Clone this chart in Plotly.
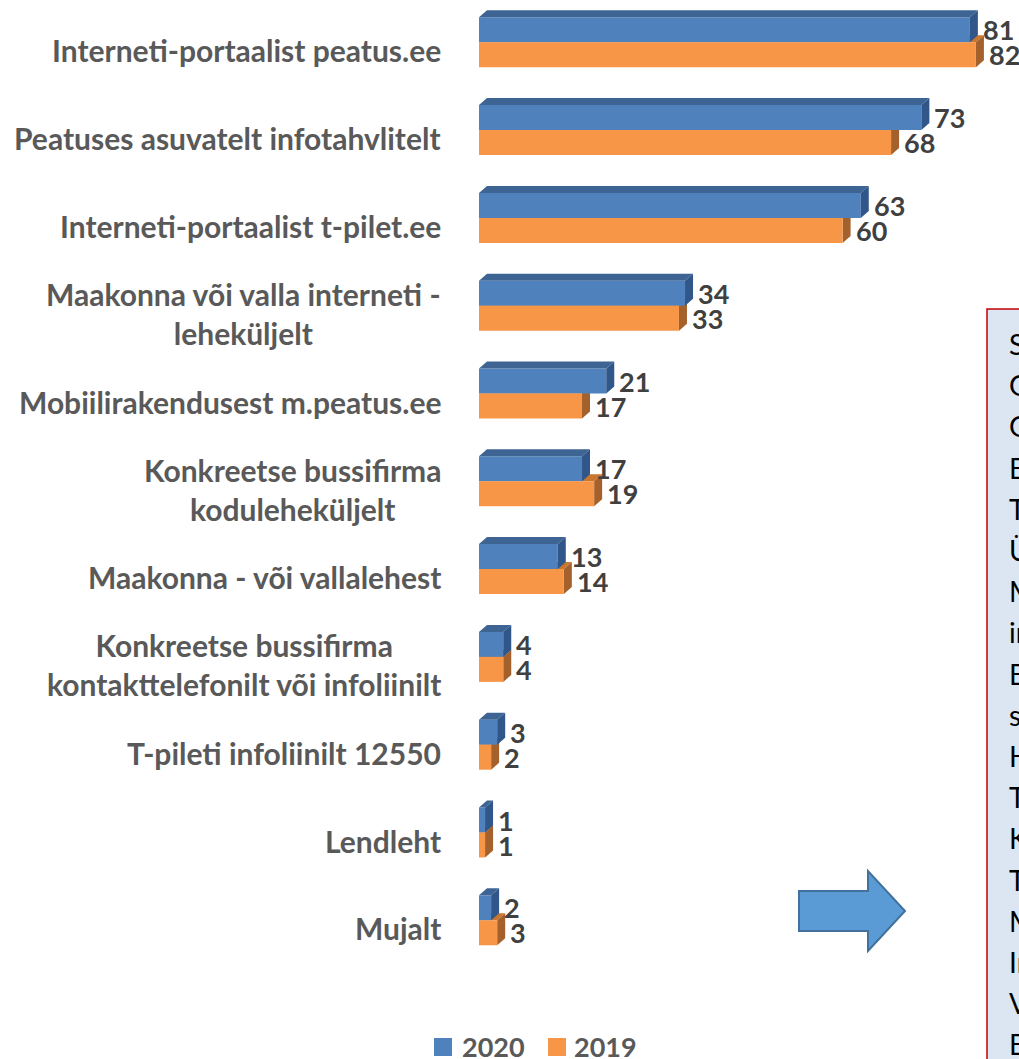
import plotly.graph_objects as go

# ---------------- data ----------------
categories = [
    "Interneti-portaalist peatus.ee",
    "Peatuses asuvatelt infotahvlitelt",
    "Interneti-portaalist t-pilet.ee",
    "Maakonna või valla interneti -<br>leheküljelt",
    "Mobiilirakendusest m.peatus.ee",
    "Konkreetse bussifirma<br>koduleheküljelt",
    "Maakonna - või vallalehest",
    "Konkreetse bussifirma<br>kontakttelefonilt või infoliinilt",
    "T-pileti infoliinilt 12550",
    "Lendleht",
    "Mujalt",
]
values_2020 = [81, 73, 63, 34, 21, 17, 13, 4, 3, 1, 2]
values_2019 = [82, 68, 60, 33, 17, 19, 14, 4, 2, 1, 3]
series_names = ["2020", "2019"]
box_lines = ["S", "G", "G", "B", "T", "Ü", "M", "in", "B", "s", "H", "T",
             "K", "T", "M", "In", "V", "B"]

# ---------------- geometry / style ----------------
W, H = 1019, 1059
L = 479                      # left edge of plot area (px)
PX_PER_UNIT = 6.06           # x scale
PX_PER_CAT = 87.8            # category spacing
FIRST_CENTER = 42.3          # px of first category centre
BAR_PX = 25                  # bar thickness px
DX_PX, DY_PX = 8, 7          # 3D depth offsets px

x_max = (W - L) / PX_PER_UNIT
y_top = -FIRST_CENTER / PX_PER_CAT
y_bot = y_top + H / PX_PER_CAT
bw = BAR_PX / PX_PER_CAT
dx = DX_PX / PX_PER_UNIT
dy = DY_PX / PX_PER_CAT

BLUE, BLUE_TOP, BLUE_SIDE = "#4f81bd", "#3d6493", "#30568a"
ORANGE, ORANGE_TOP, ORANGE_SIDE = "#f79646", "#c9762f", "#a5612b"
LABEL_FONT = "Lato"


def fx(px):
    return (px - L) / (W - L)


def fy(py):
    return 1 - py / H


ypos = list(range(len(categories)))

fig = go.Figure()
fig.add_trace(go.Bar(
    x=values_2020, y=ypos, orientation="h", name=series_names[0],
    marker=dict(color=BLUE, line=dict(width=0)), width=bw, offset=-bw,
))
fig.add_trace(go.Bar(
    x=values_2019, y=ypos, orientation="h", name=series_names[1],
    marker=dict(color=ORANGE, line=dict(width=0)), width=bw, offset=0,
))

shapes = []


def faces(v, ytop, ybot, top_col, side_col, layer):
    top = (f"M 0,{ytop} L {v},{ytop} L {v+dx},{ytop-dy} L {dx},{ytop-dy} Z")
    side = (f"M {v},{ytop} L {v+dx},{ytop-dy} L {v+dx},{ybot-dy} L {v},{ybot} Z")
    return [
        dict(type="path", path=top, xref="x", yref="y", fillcolor=top_col,
             line=dict(width=0), layer=layer),
        dict(type="path", path=side, xref="x", yref="y", fillcolor=side_col,
             line=dict(width=0), layer=layer),
    ]


for i, (b, o) in enumerate(zip(values_2020, values_2019)):
    shapes += faces(o, i, i + bw, ORANGE_TOP, ORANGE_SIDE, "below")
    shapes += faces(b, i - bw, i, BLUE_TOP, BLUE_SIDE, "above")

annotations = []
for i, cat in enumerate(categories):
    annotations.append(dict(
        text=cat, xref="paper", x=fx(443), xanchor="right", yref="y", y=i,
        yanchor="middle", yshift=-8, align="center", showarrow=False,
        font=dict(family=LABEL_FONT, size=30, color="#595959", weight="bold"),
    ))
for i, (b, o) in enumerate(zip(values_2020, values_2019)):
    for v, yc in ((b, i - bw / 2), (o, i + bw / 2)):
        annotations.append(dict(
            text=str(v), xref="x", x=v, xanchor="left", xshift=11,
            yref="y", y=yc, yanchor="middle", showarrow=False,
            font=dict(family=LABEL_FONT, size=27, color="#404040", weight="bold"),
        ))

# text box on the right (cropped)
shapes.append(dict(type="rect", xref="paper", yref="paper",
                   x0=fx(987), x1=fx(1040), y0=fy(309), y1=fy(1080),
                   fillcolor="#dce6f2", line=dict(color="#c00000", width=1.5),
                   layer="above"))
for k, t in enumerate(box_lines):
    annotations.append(dict(
        text=t, xref="paper", x=fx(1007), xanchor="left", yref="paper",
        y=fy(344 + k * 41.2), yanchor="middle", showarrow=False,
        font=dict(family=LABEL_FONT, size=28, color="#000000"),
    ))

# block arrow
arrow = [(799, 891), (868, 891), (868, 871), (905, 911), (868, 951),
         (868, 931), (799, 931)]
path = "M " + " L ".join(f"{fx(a)},{fy(b)}" for a, b in arrow) + " Z"
shapes.append(dict(type="path", path=path, xref="paper", yref="paper",
                   fillcolor="#5b9bd5", line=dict(color="#41719c", width=2),
                   layer="above"))

# legend (manual)
for (sx, tx, col, name) in ((434, 460, BLUE, series_names[0]),
                            (548, 572, ORANGE, series_names[1])):
    shapes.append(dict(type="rect", xref="paper", yref="paper",
                       x0=fx(sx), x1=fx(sx + 18), y0=fy(1038), y1=fy(1056),
                       fillcolor=col, line=dict(width=0), layer="above"))
    annotations.append(dict(
        text=name, xref="paper", x=fx(tx), xanchor="left", yref="paper",
        y=fy(1046), yanchor="middle", showarrow=False,
        font=dict(family=LABEL_FONT, size=27, color="#595959", weight="bold"),
    ))

fig.update_layout(
    width=W, height=H,
    margin=dict(l=L, r=0, t=0, b=0, pad=0),
    paper_bgcolor="white", plot_bgcolor="white",
    barmode="overlay", showlegend=False,
    xaxis=dict(range=[0, x_max], visible=False, fixedrange=True),
    yaxis=dict(range=[y_bot, y_top], visible=False, fixedrange=True),
    shapes=shapes, annotations=annotations,
)

fig.write_html(
    "out.html",
    config={"displayModeBar": False},
    post_script="document.body.style.margin='0';document.body.style.overflow='hidden';",
)
